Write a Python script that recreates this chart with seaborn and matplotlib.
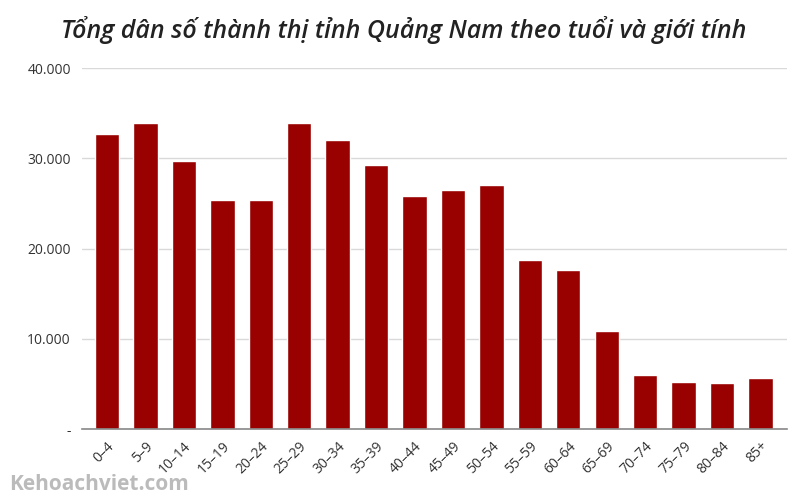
import matplotlib
matplotlib.use("Agg")
import matplotlib.pyplot as plt
import matplotlib.ticker as mticker
import seaborn as sns

# Age groups and urban population (Quang Nam)
age_groups = ["0–4", "5–9", "10–14", "15–19", "20–24", "25–29", "30–34", "35–39",
              "40–44", "45–49", "50–54", "55–59", "60–64", "65–69", "70–74",
              "75–79", "80–84", "85+"]
population = [32700, 33900, 29700, 25400, 25400, 33900, 32000, 29250,
              25800, 26500, 27000, 18700, 17600, 10900, 6000, 5200, 5100, 5650]

sns.set_theme(style="white")
plt.rcParams["font.family"] = ["Open Sans", "DejaVu Sans"]

fig = plt.figure(figsize=(8, 5), dpi=100)
ax = fig.add_axes([0.1025, 0.142, 0.88125, 0.722])

sns.barplot(x=age_groups, y=population, color="#990000", saturation=1,
            width=0.635, ax=ax)

ax.set_xlim(-0.65, 17.69)
ax.set_ylim(0, 40000)
ax.set_yticks([0, 10000, 20000, 30000, 40000])
ax.yaxis.set_major_formatter(mticker.FuncFormatter(
    lambda v, p: "-" if v == 0 else f"{int(v):,}".replace(",", ".")))
ax.yaxis.grid(True, color="#d9d9d9", linewidth=1)
ax.set_axisbelow(True)
for s in ["top", "right", "left"]:
    ax.spines[s].set_visible(False)
ax.spines["bottom"].set_color("#888888")
ax.spines["bottom"].set_linewidth(1.2)
ax.tick_params(axis="y", length=0, labelsize=10, colors="#333333", pad=8)
ax.tick_params(axis="x", length=0, labelsize=10, colors="#333333", pad=7)
plt.setp(ax.get_xticklabels(), rotation=45, ha="right", rotation_mode="anchor")
ax.set_xlabel("")
ax.set_ylabel("")

fig.text(0.504, 0.94, "Tổng dân số thành thị tỉnh Quảng Nam theo tuổi và giới tính",
         ha="center", va="center", fontsize=18, style="italic",
         fontweight="semibold", color="#222222")
fig.text(0.012, 0.032, "Kehoachviet.com", ha="left", va="center", fontsize=15,
         fontweight="bold", color="#bbbbbb")

fig.savefig("out.png", dpi=100)
